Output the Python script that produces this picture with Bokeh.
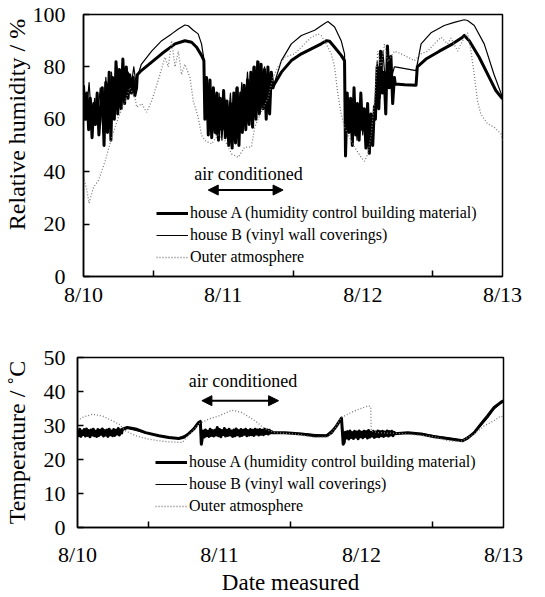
import numpy as np

from bokeh.plotting import figure
from bokeh.layouts import column
from bokeh.models import (FixedTicker, Range1d, Legend, LegendItem, Arrow,
                          NormalHead, Label)
from bokeh.embed import file_html
from bokeh.resources import INLINE

FONT = "Liberation Serif"

# ---------------------------------------------------------------- x axis (days)
DAY_TICKS = [0, 1, 2, 3]
DAY_LABELS = ["8/10", "8/11", "8/12", "8/13"]
NOON_TICKS = [0.5, 1.5, 2.5]

# ------------------------------------------------ relative humidity, house A (%)
# fluctuating stretches: (start day, end day) and the logged values in between
RH_A_BURST1_SPAN = (0.000, 0.380)
RH_A_BURST1 = [73, 60, 70, 56, 68, 53, 66, 58, 70, 54, 64, 72, 50, 74, 55, 78,
               52, 76, 60, 82, 62, 79, 64, 83, 66, 80, 68, 77, 70, 76, 69, 72]
RH_A_DAY1_T = [0.385, 0.414, 0.488, 0.560, 0.607, 0.655, 0.726, 0.774, 0.810, 0.845, 0.862]
RH_A_DAY1_V = [77, 78.6, 81.8, 85, 86.9, 88.8, 90, 89.4, 87.5, 84.4, 82.4]
RH_A_BURST2_SPAN = (0.869, 1.357)
RH_A_BURST2 = [60, 76, 54, 75, 53, 72, 55, 70, 52, 68, 56, 71, 53, 67, 50, 66,
               49, 70, 51, 72, 50, 70, 55, 73, 56, 75, 58, 78, 57, 80, 60, 82,
               62, 81, 64, 79, 60, 80, 62, 78, 72]
RH_A_DAY2_T = [1.362, 1.417, 1.488, 1.560, 1.631, 1.702, 1.738, 1.762, 1.798, 1.845, 1.869]
RH_A_DAY2_V = [73, 78, 82.4, 85, 86.9, 88.8, 90, 89.8, 87.5, 84.4, 82.4]
RH_A_BURST3_SPAN = (1.876, 2.083)
RH_A_BURST3 = [46, 70, 55, 68, 50, 72, 54, 66, 52, 70, 56, 64, 49, 66, 47, 62, 50, 65]
RH_A_BURST4_SPAN = (2.090, 2.226)
RH_A_BURST4 = [60, 80, 64, 86, 70, 78, 62, 88, 72, 84, 66, 76]
RH_A_DAY3_T = [2.232, 2.300, 2.381, 2.390, 2.452, 2.548, 2.643, 2.714, 2.726,
               2.762, 2.833, 2.905, 2.952, 3.000]
RH_A_DAY3_V = [73.5, 73.2, 73, 80, 83, 86, 88.8, 91.3, 92, 90, 83.7, 76, 71, 67.8]

# ------------------------------------------------ relative humidity, house B (%)
RH_B_BURST1_SPAN = (0.000, 0.380)
RH_B_BURST1 = [70, 62, 74, 58, 68, 60, 72, 55, 76, 60, 78, 64, 80, 66, 82, 70,
               78, 72, 80, 72]
RH_B_DAY1_T = [0.385, 0.414, 0.488, 0.560, 0.631, 0.679, 0.726, 0.750, 0.786,
               0.821, 0.845, 0.862]
RH_B_DAY1_V = [76, 81, 86, 90, 92.6, 94.5, 96, 95.7, 94, 92.6, 88.8, 83]
RH_B_BURST2_SPAN = (0.869, 1.357)
RH_B_BURST2 = [62, 74, 56, 72, 54, 70, 52, 68, 56, 70, 52, 72, 58, 74, 60, 78,
               62, 80, 64, 82, 66, 80, 68, 78, 73]
RH_B_DAY2_T = [1.362, 1.417, 1.488, 1.560, 1.655, 1.726, 1.750, 1.798, 1.845, 1.869]
RH_B_DAY2_V = [73, 82.4, 88.8, 92, 94, 96.6, 97.3, 95.2, 90, 85]
RH_B_BURST3_SPAN = (1.876, 2.226)
RH_B_BURST3 = [50, 68, 56, 70, 52, 66, 54, 64, 50, 62, 60, 82, 68, 86, 72, 84, 76, 80]
RH_B_DAY3_T = [2.232, 2.381, 2.417, 2.488, 2.583, 2.655, 2.726, 2.750, 2.798,
               2.869, 2.940, 3.000]
RH_B_DAY3_V = [80, 78.6, 88.8, 93, 95.8, 97, 98, 97.7, 95.8, 88.8, 77, 68.4]

# ------------------------------------------- relative humidity, outer air (%)
RH_OUT_T = [0.000, 0.024, 0.040, 0.071, 0.107, 0.155, 0.202, 0.250, 0.298, 0.333,
            0.369, 0.381, 0.417, 0.452, 0.488, 0.536, 0.583, 0.607, 0.631, 0.655,
            0.679, 0.702, 0.726, 0.762, 0.786, 0.821, 0.845, 0.869, 0.917, 0.964,
            1.012, 1.060, 1.107, 1.155, 1.202, 1.226, 1.274, 1.321, 1.357, 1.393,
            1.440, 1.512, 1.583, 1.631, 1.679, 1.702, 1.738, 1.774, 1.798, 1.821,
            1.845, 1.869, 1.905, 1.940, 1.988, 2.012, 2.036, 2.060, 2.083, 2.107,
            2.131, 2.155, 2.179, 2.226, 2.274, 2.321, 2.369, 2.417, 2.464, 2.512,
            2.560, 2.607, 2.631, 2.679, 2.726, 2.750, 2.774, 2.798, 2.821, 2.845,
            2.893, 2.940, 2.988, 3.000]
RH_OUT_V = [38, 33, 28, 34, 36.6, 44, 53, 60.8, 67, 72,
            68, 64.6, 66, 62.7, 67, 75, 83.7, 80, 90, 80,
            86, 77, 81, 76, 67, 60.8, 54, 51.9, 50.6, 54,
            51.9, 46.8, 45.5, 49.4, 49.4, 57, 63, 68, 76, 80,
            83.7, 85, 88.8, 91.3, 92.6, 92, 88.8, 85, 80, 69.7,
            62, 57, 53, 49.4, 45.5, 44, 46.8, 54, 67, 86,
            80, 88.8, 82, 86, 85, 83.7, 82.4, 85, 86, 88.8,
            91.3, 88.8, 91, 86, 91.3, 93, 86, 77, 67, 62,
            58.3, 57, 54.5, 52]

# ------------------------------------------------- temperature, house A (degC)
T_A_BURST1_SPAN = (0.000, 0.311)
T_A_BURST1 = [28.6, 27.0, 28.9, 26.8, 28.4, 27.3, 28.8, 26.9, 29.0, 27.1,
              28.5, 26.7, 28.7, 27.2, 28.9, 27.0, 28.3, 26.8, 28.8, 27.1,
              28.6, 27.4, 29.0, 26.9, 28.5, 27.2, 28.7, 26.8, 28.9, 27.3,
              28.4, 27.0, 28.8, 27.1, 28.6, 27.5, 29.1, 27.2, 28.7, 27.8]
T_A_DAY1_T = [0.316, 0.351, 0.409, 0.479, 0.573, 0.643, 0.713, 0.748, 0.783,
              0.818, 0.853, 0.865, 0.872]
T_A_DAY1_V = [28.9, 29.4, 29.0, 27.9, 27.0, 26.5, 26.2, 26.5, 27.6, 28.9, 30.9, 31.2, 24.5]
T_A_BURST2_SPAN = (0.876, 1.368)
T_A_BURST2 = [25.5, 28.4, 26.6, 28.7, 27.0, 28.3, 26.8, 28.9, 27.1, 28.5,
              26.9, 28.6, 27.2, 29.4, 27.0, 28.8, 26.7, 28.5, 27.3, 29.1,
              26.9, 28.6, 27.1, 28.9, 27.2, 28.4, 26.8, 28.7, 27.0, 29.0,
              27.3, 28.5, 26.9, 28.8, 27.1, 28.6, 27.4, 28.9, 27.0, 28.5,
              27.2, 28.8, 27.3, 28.6, 27.1, 28.9, 27.5, 28.7, 27.2, 28.8,
              27.4, 28.6, 27.3, 28.9, 27.6, 28.7, 27.5, 28.6, 27.8, 28.2]
T_A_DAY2_T = [1.372, 1.461, 1.578, 1.672, 1.754, 1.789, 1.824, 1.859, 1.871]
T_A_DAY2_V = [27.9, 27.9, 27.5, 27.0, 27.0, 27.9, 29.9, 32.2, 24.5]
T_A_BURST3_SPAN = (1.878, 2.230)
T_A_BURST3 = [25.0, 28.0, 26.3, 28.2, 26.0, 28.4, 26.5, 27.9, 26.2, 28.3,
              26.6, 28.1, 26.1, 28.4, 26.7, 28.0, 26.4, 28.3, 26.8, 28.2,
              26.3, 28.5, 26.6, 28.0, 26.9, 28.3, 26.5, 28.1, 26.8, 28.4,
              26.7, 28.2, 27.0, 28.3, 26.8, 28.1, 27.1, 28.4, 26.9, 28.2,
              27.2, 28.3, 27.0, 28.0]
T_A_DAY3_T = [2.233, 2.326, 2.420, 2.513, 2.607, 2.712, 2.747, 2.794, 2.841,
              2.888, 2.934, 2.981, 3.000]
T_A_DAY3_V = [27.6, 27.9, 27.5, 26.7, 26.2, 25.5, 26.3, 27.9, 30.4, 32.8, 35.3, 36.8, 37.3]

# ------------------------------------------------- temperature, house B (degC)
T_B_T = [0.000, 0.310, 0.350, 0.480, 0.640, 0.710, 0.780, 0.850, 0.865, 0.875,
         0.900, 1.100, 1.368, 1.580, 1.750, 1.820, 1.860, 1.872, 1.900, 2.230,
         2.420, 2.610, 2.710, 2.790, 2.840, 2.890, 2.930, 2.980, 3.000]
T_B_V = [28, 28.5, 29.2, 27.8, 26.6, 26.3, 27.5, 30.6, 31, 27,
         27.8, 28.2, 28, 27.6, 27.1, 29.7, 32, 27, 27.5, 27.8,
         27.6, 26.3, 25.7, 27.7, 30, 32.4, 34.8, 36.5, 37]

# ------------------------------------------------ temperature, outer air (degC)
T_OUT_T = [0.000, 0.035, 0.105, 0.175, 0.245, 0.292, 0.339, 0.409, 0.503, 0.573,
           0.643, 0.737, 0.783, 0.853, 0.924, 0.994, 1.087, 1.157, 1.251, 1.321,
           1.391, 1.531, 1.672, 1.765, 1.812, 1.859, 1.952, 2.046, 2.065, 2.069,
           2.116, 2.280, 2.513, 2.607, 2.700, 2.794, 2.864, 2.934, 2.981, 3.000]
T_OUT_V = [31.4, 32.4, 33.3, 32.8, 31.4, 30.4, 28.4, 27.0, 26.0, 25.5,
           25.2, 25.0, 27.2, 30.4, 31.9, 32.8, 34.5, 33.8, 31.4, 28.9,
           27.9, 27.5, 26.5, 26.7, 29.0, 32.4, 34.3, 35.8, 35.5, 28.4,
           27.9, 27.6, 26.7, 25.5, 25.3, 27.5, 29.9, 31.4, 32.8, 32.4]

LEGEND_LABELS = ["house A (humidity control building material)",
                 "house B (vinyl wall coverings)",
                 "Outer atmosphere"]
AC_LABEL = "air conditioned"
AC_SPAN_RH = (0.893, 1.429)   # air-conditioning period marked on the humidity panel
AC_SPAN_T = (0.876, 1.416)    # and on the temperature panel


def burst(span, values):
    """Evenly spaced logger readings across a fluctuating stretch."""
    return list(np.linspace(span[0], span[1], len(values))), list(values)


def join(*pieces):
    xs, ys = [], []
    for t, v in pieces:
        xs += list(t)
        ys += list(v)
    return xs, ys


rh_a = join(burst(RH_A_BURST1_SPAN, RH_A_BURST1), (RH_A_DAY1_T, RH_A_DAY1_V),
            burst(RH_A_BURST2_SPAN, RH_A_BURST2), (RH_A_DAY2_T, RH_A_DAY2_V),
            burst(RH_A_BURST3_SPAN, RH_A_BURST3), burst(RH_A_BURST4_SPAN, RH_A_BURST4),
            (RH_A_DAY3_T, RH_A_DAY3_V))
rh_b = join(burst(RH_B_BURST1_SPAN, RH_B_BURST1), (RH_B_DAY1_T, RH_B_DAY1_V),
            burst(RH_B_BURST2_SPAN, RH_B_BURST2), (RH_B_DAY2_T, RH_B_DAY2_V),
            burst(RH_B_BURST3_SPAN, RH_B_BURST3), (RH_B_DAY3_T, RH_B_DAY3_V))
t_a = join(burst(T_A_BURST1_SPAN, T_A_BURST1), (T_A_DAY1_T, T_A_DAY1_V),
           burst(T_A_BURST2_SPAN, T_A_BURST2), (T_A_DAY2_T, T_A_DAY2_V),
           burst(T_A_BURST3_SPAN, T_A_BURST3), (T_A_DAY3_T, T_A_DAY3_V))


def make_panel(height, y_max, y_ticks, borders, x_standoff, y_standoff):
    left, right, top, bottom = borders
    p = figure(width=545, height=height, x_range=Range1d(0, 3),
               y_range=Range1d(0, y_max), output_backend="svg",
               toolbar_location=None, min_border_left=left,
               min_border_right=right, min_border_top=top,
               min_border_bottom=bottom, background_fill_color="white",
               border_fill_color="white", frame_align=False)
    p.xgrid.visible = False
    p.ygrid.visible = False
    p.outline_line_color = "black"
    p.outline_line_width = 1.5
    p.outline_line_alpha = 1.0

    xa = p.xaxis[0]
    xa.ticker = FixedTicker(ticks=DAY_TICKS, minor_ticks=NOON_TICKS)
    xa.major_label_overrides = dict(zip(DAY_TICKS, DAY_LABELS))
    xa.major_tick_in = 0
    xa.major_tick_out = 0
    xa.minor_tick_in = 6
    xa.minor_tick_out = 0
    xa.minor_tick_line_width = 1.5
    xa.major_label_standoff = x_standoff

    ya = p.yaxis[0]
    ya.ticker = FixedTicker(ticks=y_ticks)
    ya.major_tick_in = 6
    ya.major_tick_out = 0
    ya.minor_tick_in = 0
    ya.minor_tick_out = 0
    ya.major_tick_line_width = 1.5
    ya.major_label_standoff = y_standoff

    for ax in (xa, ya):
        ax.axis_line_color = "black"
        ax.axis_line_width = 1.5
        ax.major_label_text_font = FONT
        ax.major_label_text_font_size = "22px"
        ax.major_label_text_color = "black"
        ax.major_label_text_line_height = 1.0
        ax.axis_label_text_font = FONT
        ax.axis_label_text_font_size = "24px"
        ax.axis_label_text_font_style = "normal"
        ax.axis_label_text_color = "black"
        ax.axis_label_text_line_height = 1.0
        ax.axis_label_standoff = 0
    return p


def draw_series(p, a, b, out, legend_loc):
    ra = p.line(a[0], a[1], line_color="black", line_width=3, line_join="round")
    rb = p.line(b[0], b[1], line_color="black", line_width=1.2, line_join="round")
    ro = p.line(out[0], out[1], line_color="#7a7a7a", line_width=1.3,
                line_dash="1 2")
    legend = Legend(items=[LegendItem(label=LEGEND_LABELS[0], renderers=[ra]),
                           LegendItem(label=LEGEND_LABELS[1], renderers=[rb]),
                           LegendItem(label=LEGEND_LABELS[2], renderers=[ro])],
                    location=legend_loc, orientation="vertical",
                    border_line_alpha=0, background_fill_alpha=0,
                    label_text_font=FONT, label_text_font_size="16px",
                    label_text_color="black", glyph_width=32, glyph_height=20,
                    label_height=20, label_standoff=2, spacing=2, padding=0,
                    margin=0)
    p.add_layout(legend, "center")


def air_conditioned(p, span, y_arrow, y_text):
    p.add_layout(Arrow(start=NormalHead(size=10, fill_color="black", line_color="black"),
                       end=NormalHead(size=10, fill_color="black", line_color="black"),
                       x_start=span[0], y_start=y_arrow, x_end=span[1], y_end=y_arrow,
                       line_color="black", line_width=2))
    p.add_layout(Label(x=(span[0] + span[1]) / 2 + 0.02, y=y_text, text=AC_LABEL,
                       text_font=FONT, text_font_size="18px", text_color="black",
                       text_align="center", text_baseline="middle"))


# humidity panel; the title is padded at its start so it sits a little above
# the middle of the axis
p1 = make_panel(310, 100, [0, 20, 40, 60, 80, 100], (82, 43, 14, 34), 5, 18)
p1.yaxis[0].axis_label = "\u00a0" * 7 + "Relative humidity / %"
draw_series(p1, rh_a, rh_b, (RH_OUT_T, RH_OUT_V), (73, 9))
air_conditioned(p1, AC_SPAN_RH, 33, 39.3)

# temperature panel
p2 = make_panel(287, 50, [0, 10, 20, 30, 40, 50], (75, 42, 47, 70), 14, 12)
p2.yaxis[0].axis_label = "Temperature / ˚C"
p2.yaxis[0].axis_label_standoff = 11
p2.xaxis[0].axis_label = "Date measured"
p2.xaxis[0].axis_label_text_font_size = "23px"
draw_series(p2, t_a, (T_B_T, T_B_V), (T_OUT_T, T_OUT_V), (78, 11))
air_conditioned(p2, AC_SPAN_T, 37.3, 43.2)

layout = column(p1, p2, spacing=0)
open("out.html", "w").write(file_html(layout, INLINE))
